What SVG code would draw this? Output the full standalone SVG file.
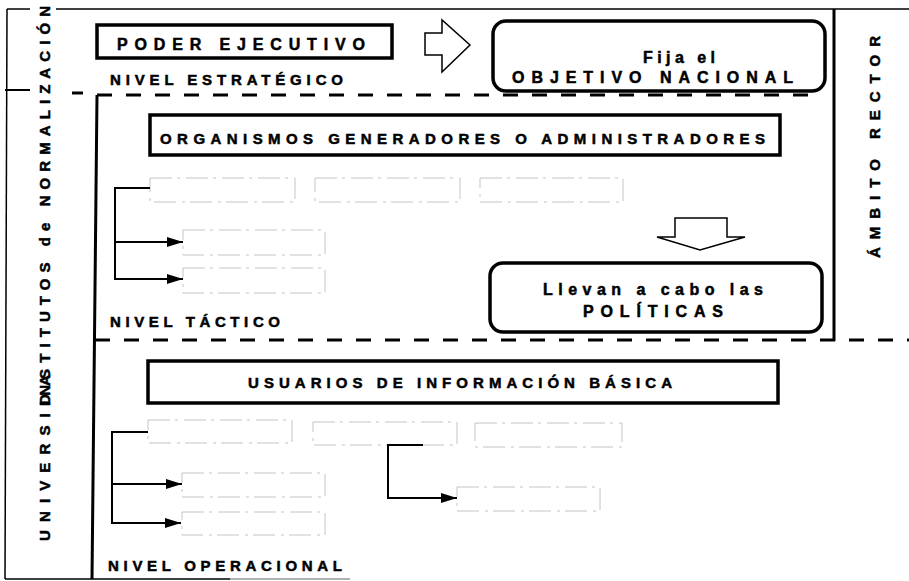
<svg xmlns="http://www.w3.org/2000/svg" width="909" height="581" viewBox="0 0 909 581">
<style>
.t{font-family:"Liberation Sans",Arial,sans-serif;font-weight:bold;fill:#000;stroke:#000;stroke-width:0.5}
.box{fill:#fff;stroke:#000;stroke-width:3.5}
.rbox{fill:#fff;stroke:#000;stroke-width:3.5}
.faint{fill:none;stroke:#c4c4c4;stroke-width:1;stroke-dasharray:22 5 3 6}
.frame{fill:none;stroke:#000;stroke-width:1.5}
.dash{fill:none;stroke:#000;stroke-width:3;stroke-dasharray:15 14}
.conn{fill:none;stroke:#000;stroke-width:2}
.hollow{fill:#fff;stroke:#000;stroke-width:1.5;stroke-linejoin:miter}
</style>
<defs>
<marker id="ah" viewBox="0 0 16 10" refX="16" refY="5" markerWidth="16" markerHeight="10" markerUnits="userSpaceOnUse" orient="auto">
<path d="M0,0 L16,5 L0,10 Z" fill="#000"/>
</marker>
</defs>
<rect width="909" height="581" fill="#fff"/>

<g id="frame">
<line class="frame" x1="7" y1="9" x2="909" y2="9"/>
<line class="frame" x1="7" y1="9" x2="5" y2="579"/>
<line x1="5" y1="579" x2="230" y2="579" stroke="#000" stroke-width="1.5"/>
<line x1="230" y1="579" x2="350" y2="579" stroke="#999" stroke-width="1.5"/>
<line x1="5" y1="90" x2="28" y2="90" stroke="#000" stroke-width="2"/>
<line x1="72" y1="93" x2="83" y2="93" stroke="#000" stroke-width="3"/>
<line x1="97" y1="95" x2="92" y2="579" stroke="#000" stroke-width="3"/>
<line x1="834" y1="9" x2="834" y2="341" stroke="#000" stroke-width="3"/>
<line class="dash" x1="97" y1="95" x2="822" y2="95"/>
<line class="dash" x1="95" y1="340" x2="909" y2="340"/>
</g>

<g id="side-left">
<text class="t" font-size="15" transform="translate(50,541) rotate(-90)" textLength="221" lengthAdjust="spacing">UNIVERSIDADES</text>
<rect x="30" y="0" width="26" height="372" fill="#fff"/>
<line x1="28" y1="90" x2="30" y2="90" stroke="#000" stroke-width="2"/>
<text class="t" font-size="15" transform="translate(50,406) rotate(-90)" textLength="400" lengthAdjust="spacing">INSTITUTOS de NORMALIZACIÓN</text>
</g>

<g id="side-right">
<text class="t" font-size="15" transform="translate(880,258) rotate(-90)" textLength="222" lengthAdjust="spacing">ÁMBITO RECTOR</text>
</g>

<g id="poder-ejecutivo">
<rect class="box" x="97" y="25" width="295" height="33"/>
<text class="t" font-size="16" x="117" y="50" textLength="248" lengthAdjust="spacing">PODER EJECUTIVO</text>
</g>
<g id="nivel-estrategico">
<text class="t" font-size="15" x="110" y="85" textLength="233" lengthAdjust="spacing">NIVEL ESTRATÉGICO</text>
</g>
<g id="arrow-right">
<path class="hollow" d="M425,33 H442 V20 L470,45 L442,72 V55 H425 Z"/>
</g>
<g id="objetivo-nacional">
<rect class="rbox" x="493" y="21" width="332" height="70" rx="13"/>
<text class="t" font-size="16" x="643" y="63" textLength="72" lengthAdjust="spacing">Fija el</text>
<text class="t" font-size="16" x="512" y="83" textLength="281" lengthAdjust="spacing">OBJETIVO NACIONAL</text>
</g>

<g id="organismos">
<rect class="box" x="150" y="115" width="630" height="40"/>
<text class="t" font-size="15" x="160" y="144" textLength="605" lengthAdjust="spacing">ORGANISMOS GENERADORES O ADMINISTRADORES</text>
</g>
<g id="t-box-1"><rect class="faint" x="150" y="178" width="145" height="24"/></g>
<g id="t-box-2"><rect class="faint" x="315" y="178" width="145" height="24"/></g>
<g id="t-box-3"><rect class="faint" x="480" y="178" width="143" height="24"/></g>
<g id="t-box-4"><rect class="faint" x="183" y="230" width="142" height="25"/></g>
<g id="t-box-5"><rect class="faint" x="183" y="268" width="142" height="25"/></g>
<g id="arrow-down">
<path class="hollow" d="M675,218 H727 V237 H745 L700,250 L657,237 H675 Z"/>
</g>
<g id="politicas">
<rect class="rbox" x="490" y="263" width="332" height="69" rx="13"/>
<text class="t" font-size="16" x="543" y="295" textLength="220" lengthAdjust="spacing">Llevan a cabo las</text>
<text class="t" font-size="16" x="583" y="317" textLength="140" lengthAdjust="spacing">POLÍTICAS</text>
</g>
<g id="nivel-tactico">
<text class="t" font-size="15" x="110" y="327" textLength="170" lengthAdjust="spacing">NIVEL TÁCTICO</text>
</g>

<g id="usuarios">
<rect class="box" x="148" y="361" width="630" height="42"/>
<text class="t" font-size="15" x="248" y="388" textLength="424" lengthAdjust="spacing">USUARIOS DE INFORMACIÓN BÁSICA</text>
</g>
<g id="o-box-1"><rect class="faint" x="148" y="420" width="144" height="23"/></g>
<g id="o-box-2"><rect class="faint" x="313" y="422" width="144" height="23"/></g>
<g id="o-box-3"><rect class="faint" x="475" y="423" width="147" height="24"/></g>
<g id="o-box-4"><rect class="faint" x="182" y="473" width="143" height="24"/></g>
<g id="o-box-5"><rect class="faint" x="182" y="512" width="143" height="23"/></g>
<g id="o-box-6"><rect class="faint" x="457" y="487" width="143" height="24"/></g>
<g id="nivel-operacional">
<text class="t" font-size="15" x="108" y="571" textLength="234" lengthAdjust="spacing">NIVEL OPERACIONAL</text>
</g>

<g id="connectors">
<path class="conn" d="M150,188 H115 V279 H183" marker-end="url(#ah)"/>
<path class="conn" d="M115,242 H183" marker-end="url(#ah)"/>
<path class="conn" d="M148,432 H112 V523 H181" marker-end="url(#ah)"/>
<path class="conn" d="M112,484 H182" marker-end="url(#ah)"/>
<path class="conn" d="M423,445 H388 V498 H457" marker-end="url(#ah)"/>
</g>
</svg>
